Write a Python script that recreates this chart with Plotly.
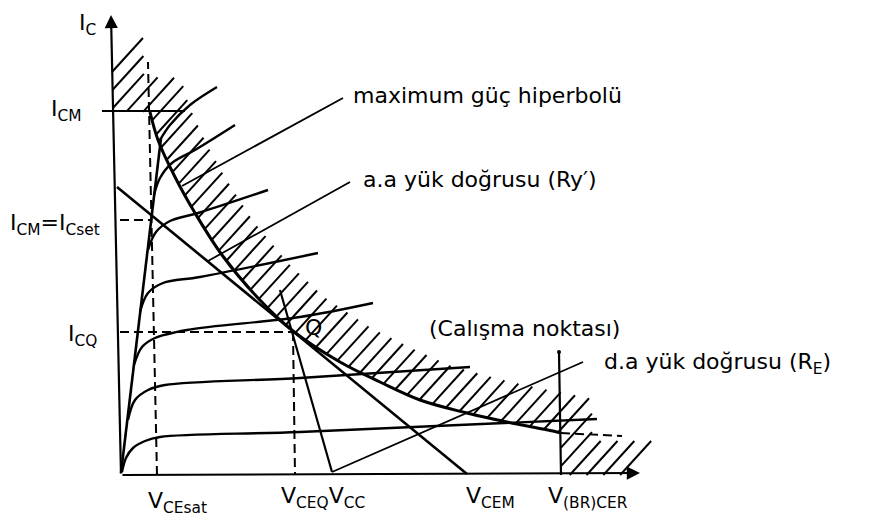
import numpy as np
import plotly.graph_objects as go

# Drawing units: V = collector-emitter voltage, I = collector current
# (arbitrary units, origin at the corner of the two axes)

# Axes (drawn as arrows)
y_axis_v = [0, -10]
y_axis_i = [0, 460]
x_axis_v = [0, 519]
x_axis_i = [0, 2]

# I_CM limit
icm_v = [-19, 64]
icm_i = [364, 364]

# Maximum power hyperbola
hyp_v = [29, 37, 54, 74, 101, 137, 172, 219, 259, 299, 346, 386, 432, 440]
hyp_i = [363, 335, 298, 262, 220, 177, 144, 113, 93, 75, 62, 53, 44, 42]

# Saturation line
sat_v = [0, 40]
sat_i = [2, 337]

# Output characteristics, one per base current
c1_v = [1, 5, 12, 24, 39, 179, 476]
c1_i = [3, 17, 27, 34, 38, 43, 56]
c2_v = [7, 14, 27, 44, 179, 349]
c2_i = [55, 75, 85, 90, 97, 108]
c3_v = [13, 21, 34, 66, 179, 252]
c3_i = [110, 128, 137, 145, 158, 172]
c4_v = [19, 27, 42, 79, 197]
c4_i = [163, 182, 192, 198, 222]
c5_v = [27, 35, 49, 77, 147]
c5_i = [225, 243, 254, 262, 285]
c6_v = [33, 39, 51, 74, 114]
c6_i = [280, 297, 312, 325, 350]
c7_v = [39, 49, 69, 96]
c7_i = [335, 350, 370, 388]

# Load lines
ac_v = [-4, 346]
ac_i = [288, 1]
dc_v = [159, 211]
dc_i = [185, 3]

# Q point
q_v, q_i = 172, 143

# Breakdown voltage limit
vbr_v = [438, 440]
vbr_i = [123, 0]

# Dashed guide lines
vsat_v = [36, 27]
vsat_i = [0, 413]
icset_v = [-1, 31]
icset_i = [255, 255]
icq_v = [-1, q_v]
icq_i = [q_i, q_i]
vceq_v = [q_v, 174]
vceq_i = [q_i, 0]
tail_v = [440, 501]
tail_i = [42, 39]

# Label pointer lines
p1_v = [222, 61]
p1_i = [377, 289]
p2_v = [229, 87]
p2_i = [293, 214]
p3_v = [462, 211]
p3_i = [113, 3]

fig = go.Figure()


def add_line(v, i, width=2.4, dash=None, shape="linear"):
    fig.add_trace(go.Scatter(
        x=v, y=i, mode="lines", hoverinfo="skip", showlegend=False,
        line=dict(color="black", width=width, dash=dash, shape=shape,
                  smoothing=1.0 if shape == "spline" else None),
    ))


# Hatching of the forbidden region, built along its boundary:
# y-axis above I_CM, the I_CM line, the hyperbola, V(BR) line, V axis.
bnd_v = np.array([-9, -8] + hyp_v + [440, 505], dtype=float)
bnd_i = np.array([403, 364] + hyp_i + [0, 0], dtype=float)
slope = 1.1
k_bnd = slope * bnd_v - bnd_i
hatch_len = 46.0
dv = hatch_len / np.hypot(1, slope)
di = dv * slope
hx, hy = [], []
for k in np.arange(k_bnd[0], k_bnd[-1], 18.5):
    v0 = np.interp(k, k_bnd, bnd_v)
    i0 = np.interp(k, k_bnd, bnd_i)
    hx += [v0, v0 + dv, None]
    hy += [i0, i0 + di, None]
add_line(hx, hy, width=2.0)

# Limits and curves
add_line(icm_v, icm_i, width=2.2)
add_line(hyp_v, hyp_i, width=3.0, shape="spline")
add_line(sat_v, sat_i, width=2.6)
for cv, ci in [(c1_v, c1_i), (c2_v, c2_i), (c3_v, c3_i), (c4_v, c4_i),
               (c5_v, c5_i), (c6_v, c6_i), (c7_v, c7_i)]:
    add_line(cv, ci, width=2.4, shape="spline")
add_line(ac_v, ac_i, width=2.6)
add_line(dc_v, dc_i, width=2.2)
add_line(vbr_v, vbr_i, width=2.2)

# Dashed guides
for dv_, di_ in [(vsat_v, vsat_i), (icset_v, icset_i), (icq_v, icq_i),
                 (vceq_v, vceq_i), (tail_v, tail_i)]:
    add_line(dv_, di_, width=2.0, dash="9px,5px")

# Pointers
for pv, pi in [(p1_v, p1_i), (p2_v, p2_i), (p3_v, p3_i)]:
    add_line(pv, pi, width=1.8)

# Small dot at the top of the V(BR) line
fig.add_trace(go.Scatter(x=[vbr_v[0]], y=[vbr_i[0]], mode="markers",
                         marker=dict(color="black", size=4),
                         hoverinfo="skip", showlegend=False))

# Axis arrows
for av, ai in [(y_axis_v, y_axis_i), (x_axis_v, x_axis_i)]:
    fig.add_annotation(x=av[1], y=ai[1], ax=av[0], ay=ai[0],
                       xref="x", yref="y", axref="x", ayref="y",
                       text="", showarrow=True, arrowhead=2,
                       arrowsize=1.2, arrowwidth=2.2, arrowcolor="black")

FONT = dict(family="DejaVu Sans", size=22, color="black")
labels = [
    ("I<sub>C</sub>", -44, 451),
    ("I<sub>CM</sub>", -72, 365),
    ("I<sub>CM</sub>=I<sub>Cset</sub>", -113, 251),
    ("I<sub>CQ</sub>", -55, 140),
    ("V<sub>CEsat</sub>", 25, -27),
    ("V<sub>CEQ</sub>V<sub>CC</sub>", 158, -22),
    ("V<sub>CEM</sub>", 343, -22),
    ("V<sub>(BR)CER</sub>", 425, -22),
    ("maximum güç hiperbolü", 230, 380),
    ("a.a yük doğrusu (Ry′)", 240, 296),
    ("(Calışma noktası)", 306, 147),
    ("d.a yük doğrusu (R<sub>E</sub>)", 481, 112),
    ("Q", 182, 148),
]
for txt, lv, li in labels:
    fig.add_annotation(x=lv, y=li, xref="x", yref="y", text=txt,
                       showarrow=False, xanchor="left", yanchor="middle",
                       font=FONT)

fig.update_layout(
    width=876, height=524,
    margin=dict(l=0, r=0, t=0, b=0),
    paper_bgcolor="white", plot_bgcolor="white",
    xaxis=dict(range=[-121, 755], visible=False, fixedrange=True),
    yaxis=dict(range=[-49, 475], visible=False, fixedrange=True),
)

fig.write_html("out.html")
